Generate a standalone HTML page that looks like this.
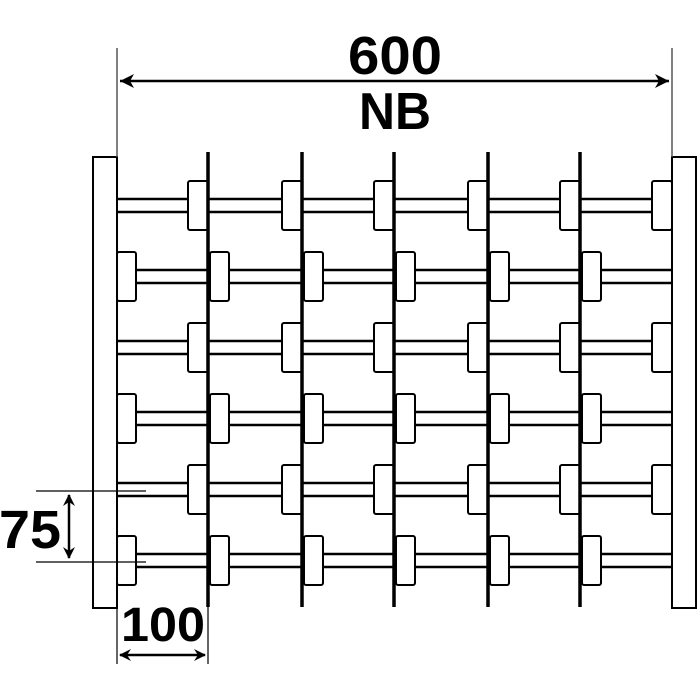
<!DOCTYPE html>
<html><head><meta charset="utf-8"><style>
html,body{margin:0;padding:0;background:#fff;}
svg{display:block;}
text{font-family:"Liberation Sans",sans-serif;font-weight:bold;fill:#000;}
</style></head><body>
<svg id="s" width="700" height="700" viewBox="0 0 700 700" xmlns="http://www.w3.org/2000/svg">
<g id="g" fill="#fff" stroke="#000" stroke-width="2"></g>
<text x="395" y="74" font-size="54" text-anchor="middle" textLength="94" lengthAdjust="spacingAndGlyphs">600</text>
<text x="395" y="129" font-size="52" text-anchor="middle" textLength="72" lengthAdjust="spacingAndGlyphs">NB</text>
<text x="30" y="548" font-size="54" text-anchor="middle" textLength="62" lengthAdjust="spacingAndGlyphs">75</text>
<text x="163" y="641" font-size="48" text-anchor="middle" textLength="84" lengthAdjust="spacingAndGlyphs">100</text>
</svg>
<script>
var g=document.getElementById('g'),h='';
function L(x1,y1,x2,y2,w,c){h+='<line x1="'+x1+'" y1="'+y1+'" x2="'+x2+'" y2="'+y2+'" stroke="'+(c||'#000')+'" stroke-width="'+(w||2)+'"/>';}
function R(x,y,w,hh,r){h+='<rect x="'+x+'" y="'+y+'" width="'+w+'" height="'+hh+'" rx="'+(r||0)+'"/>';}
R(93,157,24,451);R(672,157,24,451);
L(117,48,117,157,1.5,'#555');L(672,48,672,157,1.5,'#555');
L(120,81,669,81,2.5);
h+='<path d="M120 81 L134 74 L130 81 L134 88 Z" fill="#000" stroke="none"/><path d="M669 81 L655 74 L659 81 L655 88 Z" fill="#000" stroke="none"/>';
var vx=[208,302,394,488,580];
var rows=[205,276,347,418,489,560];
rows.forEach(function(cy,i){
  L(117,cy-6,672,cy-6,2.5);L(117,cy+7,672,cy+7,2.5);
  if(i%2==0){
    [208,302,394,488,580,672].forEach(function(x){R(x-20,cy-24,20,49,2);});
  } else {
    [117,210,304,396,490,582].forEach(function(x){R(x,cy-24,19,49,2);});
  }
});
vx.forEach(function(x){L(x,152,x,607,3.5);});
L(36,491,146,491,1.2);L(36,562,146,562,1.2);
L(69,495,69,558,2.5);
h+='<path d="M69 494 L63 506 L69 502 L75 506 Z M69 559 L63 547 L69 551 L75 547 Z" fill="#000" stroke="none"/>';
L(117,600,117,664,1.2);L(208,600,208,664,1.2);
L(120,655,205,655,2.5);
h+='<path d="M119 655 L131 649 L127 655 L131 661 Z M206 655 L194 649 L198 655 L194 661 Z" fill="#000" stroke="none"/>';
g.innerHTML=h;
</script>
</body></html>
